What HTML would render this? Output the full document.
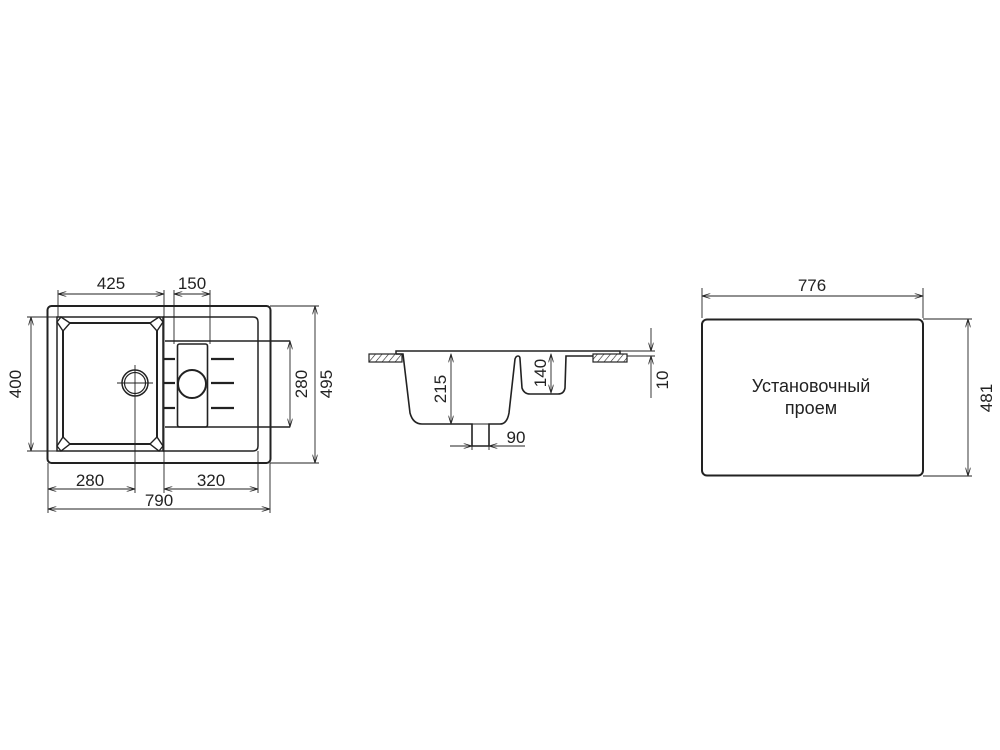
<!DOCTYPE html>
<html><head><meta charset="utf-8"><style>
html,body{margin:0;padding:0;background:#fff;}
svg{display:block;}
text{font-family:"Liberation Sans",sans-serif;font-size:17px;fill:#222;}
</style></head><body>
<svg width="1000" height="750" viewBox="0 0 1000 750" xmlns="http://www.w3.org/2000/svg">
<defs>
<marker id="a" viewBox="0 0 10 6" refX="10" refY="3" markerWidth="9" markerHeight="5" orient="auto-start-reverse" markerUnits="userSpaceOnUse"><path d="M0,0 L10,3 L0,6" fill="none" stroke="#222" stroke-width="1"/></marker>
<pattern id="h" width="5" height="8" patternUnits="userSpaceOnUse" patternTransform="rotate(40)"><line x1="0" y1="0" x2="0" y2="8" stroke="#222" stroke-width="1.2"/></pattern>
</defs>
<g fill="none" stroke="#222">
<rect x="47.5" y="306" width="223" height="157" rx="4" stroke-width="2"/>
<path d="M57,317 H163 V451 H57 Z" stroke-width="1.5"/>
<path d="M163,317 H253 Q258,317 258,322 V446 Q258,451 253,451 H163" stroke-width="1.5"/>
<rect x="63" y="323" width="94" height="121" rx="3" stroke-width="2"/>
<g fill="#fff" stroke-width="1.4">
<path d="M57,322 L61,317 L70,323 L63,331 Z"/>
<path d="M163,322 L159,317 L150,323 L157,331 Z"/>
<path d="M57,446 L61,451 L70,444 L63,437 Z"/>
<path d="M163,446 L159,451 L150,444 L157,437 Z"/>
</g>
<line x1="165" y1="341" x2="290" y2="341" stroke-width="1.5"/>
<line x1="165" y1="427" x2="290" y2="427" stroke-width="1.5"/>
<rect x="177.5" y="344" width="30" height="83" rx="2" stroke-width="1.6"/>
<circle cx="192" cy="384" r="14" stroke-width="2"/>
<g stroke-width="2.2"><line x1="164" y1="359" x2="175" y2="359"/><line x1="164" y1="383" x2="175" y2="383"/><line x1="164" y1="408" x2="175" y2="408"/>
<line x1="211" y1="359" x2="234" y2="359"/><line x1="211" y1="383" x2="234" y2="383"/><line x1="211" y1="408" x2="234" y2="408"/></g>
<circle cx="135" cy="383" r="13" stroke-width="1.5"/><circle cx="135" cy="383" r="10.5" stroke-width="1.2"/>
<line x1="117" y1="383" x2="153" y2="383" stroke-width="0.9"/>
<g stroke-width="0.9">
<line x1="135" y1="365" x2="135" y2="493"/>
<line x1="58" y1="290" x2="58" y2="317"/><line x1="164" y1="290" x2="164" y2="493"/>
<line x1="174" y1="290" x2="174" y2="344"/><line x1="210" y1="290" x2="210" y2="344"/>
<line x1="58" y1="294" x2="164" y2="294" marker-start="url(#a)" marker-end="url(#a)"/>
<line x1="174" y1="294" x2="210" y2="294" marker-start="url(#a)" marker-end="url(#a)"/>
<line x1="27" y1="317" x2="57" y2="317"/><line x1="27" y1="451" x2="57" y2="451"/>
<line x1="31" y1="317" x2="31" y2="451" marker-start="url(#a)" marker-end="url(#a)"/>
<line x1="290" y1="341" x2="290" y2="427" marker-start="url(#a)" marker-end="url(#a)"/>
<line x1="270" y1="306" x2="319" y2="306"/><line x1="270" y1="463" x2="319" y2="463"/>
<line x1="315" y1="306" x2="315" y2="463" marker-start="url(#a)" marker-end="url(#a)"/>
<line x1="48" y1="463" x2="48" y2="513"/><line x1="270" y1="463" x2="270" y2="513"/><line x1="258" y1="451" x2="258" y2="493"/>
<line x1="48" y1="489" x2="135" y2="489" marker-start="url(#a)" marker-end="url(#a)"/>
<line x1="164" y1="489" x2="258" y2="489" marker-start="url(#a)" marker-end="url(#a)"/>
<line x1="48" y1="509" x2="270" y2="509" marker-start="url(#a)" marker-end="url(#a)"/>
</g>
<rect x="369" y="354" width="33" height="8" fill="url(#h)" stroke-width="1.2"/>
<rect x="593" y="354" width="34" height="8" fill="url(#h)" stroke-width="1.2"/>
<path d="M396,354 V351 H620 V354" stroke-width="1.5"/>
<path d="M396,354 H403 L410,413 Q413,424 422,424 H472 V446 H489 V424 H500 Q507,424 509,413 L515,359 Q516,356 518,356 Q520,356 520,359 L522,388 Q524,394 530,394 H558 Q564,394 565,388 L566,356 H593" stroke-width="1.6"/>
<line x1="472" y1="424" x2="489" y2="424" stroke-width="1"/>
<g stroke-width="0.9">
<line x1="451" y1="354" x2="451" y2="424" marker-start="url(#a)" marker-end="url(#a)"/>
<line x1="551" y1="354" x2="551" y2="393" marker-start="url(#a)" marker-end="url(#a)"/>
<line x1="620" y1="351" x2="655" y2="351"/><line x1="627" y1="356" x2="655" y2="356"/>
<line x1="651" y1="328" x2="651" y2="351" marker-end="url(#a)"/>
<line x1="651" y1="398" x2="651" y2="356" marker-end="url(#a)"/>
<line x1="472" y1="446" x2="472" y2="450"/><line x1="489" y1="446" x2="489" y2="450"/>
<line x1="450" y1="446" x2="472" y2="446" marker-end="url(#a)"/>
<line x1="525" y1="446" x2="489" y2="446" marker-end="url(#a)"/>
</g>
<rect x="702" y="319.5" width="221" height="156" rx="5" stroke-width="2"/>
<g stroke-width="0.9">
<line x1="702" y1="288" x2="702" y2="318"/><line x1="923" y1="288" x2="923" y2="318"/>
<line x1="702" y1="296" x2="923" y2="296" marker-start="url(#a)" marker-end="url(#a)"/>
<line x1="923" y1="319" x2="972" y2="319"/><line x1="923" y1="476" x2="972" y2="476"/>
<line x1="968" y1="319" x2="968" y2="476" marker-start="url(#a)" marker-end="url(#a)"/>
</g>
</g>
<g text-anchor="middle">
<text x="111" y="289">425</text>
<text x="192" y="289">150</text>
<text x="90" y="486">280</text>
<text x="211" y="486">320</text>
<text x="159" y="506">790</text>
<text transform="translate(21,384) rotate(-90)">400</text>
<text transform="translate(307,384) rotate(-90)">280</text>
<text transform="translate(332,384) rotate(-90)">495</text>
<text transform="translate(446,389) rotate(-90)">215</text>
<text transform="translate(546,373) rotate(-90)">140</text>
<text transform="translate(668,380) rotate(-90)">10</text>
<text x="516" y="443">90</text>
<text x="812" y="291">776</text>
<text transform="translate(992,398) rotate(-90)">481</text>
<text x="811" y="392" style="font-size:18px">Установочный</text>
<text x="811" y="414" style="font-size:18px">проем</text>
</g>
</svg>
</body></html>
